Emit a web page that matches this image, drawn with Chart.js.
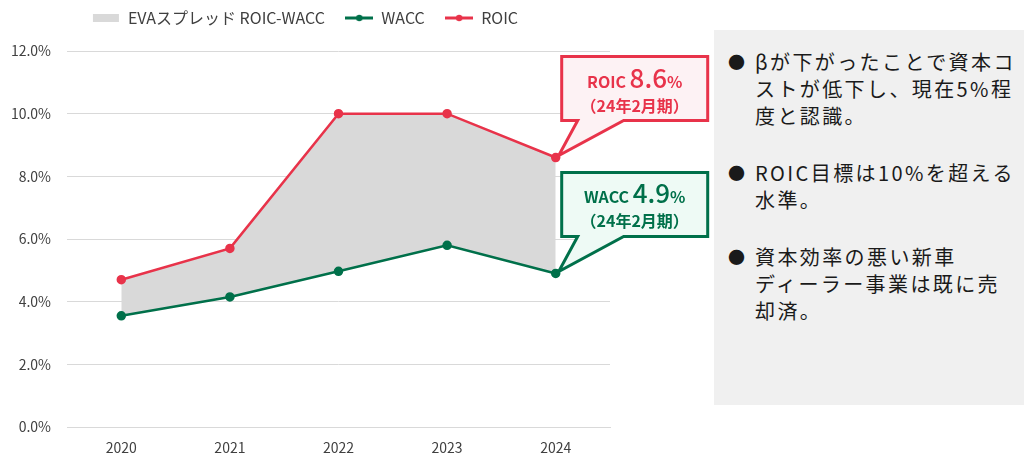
<!DOCTYPE html>
<html lang="ja">
<head>
<meta charset="utf-8">
<script src="https://cdn.jsdelivr.net/npm/chart.js@4.4.1/dist/chart.umd.min.js"></script>
<style>
  html, body { margin: 0; padding: 0; background: #fff; }
  body { width: 1024px; height: 453px; position: relative; overflow: hidden;
         font-family: "Noto Sans CJK JP", "Noto Sans", sans-serif; }
  #chartBox { position: absolute; left: 0; top: 0; width: 714px; height: 453px; }
  #notes { position: absolute; left: 714px; top: 30px; width: 310px; height: 375px;
           background: #f0f0f0; box-sizing: border-box; padding: 18px 0 0 14px; }
  #notes p { margin: 0 0 30px 0; position: relative; padding-left: 27px;
             font-size: 20px; line-height: 27px; letter-spacing: 2.4px; color: #1a1a1a; }
  #notes p.last { margin-top: 9px; }
  #notes p::before { content: "●"; position: absolute; left: 0; top: 0; font-size: 17px; letter-spacing: 0; }
</style>
</head>
<body>
<div id="chartBox"><canvas id="evaChart"></canvas></div>
<div id="notes">
  <p>βが下がったことで資本コ<br>ストが低下し、現在5%程<br>度と認識。</p>
  <p>ROIC目標は10%を超える<br>水準。</p>
  <p class="last">資本効率の悪い新車<br>ディーラー事業は既に売<br>却済。</p>
</div>
<script>
// data
const years = ["2020", "2021", "2022", "2023", "2024"];
const roic = [4.7, 5.7, 10.0, 10.0, 8.6];
const wacc = [3.55, 4.15, 4.97, 5.8, 4.9];
const seriesNames = ["EVAスプレッド ROIC-WACC", "WACC", "ROIC"];
const periodLabel = "（24年2月期）";

const RED = "#e8334a";
const GREEN = "#00704a";
const GRAY = "#d9d9d9";
const FONT = "'Noto Sans CJK JP', sans-serif";

// little legend markers
function marker(kind, color) {
  const c = document.createElement("canvas");
  c.width = 28; c.height = 10;
  const g = c.getContext("2d");
  if (kind === "box") {
    g.fillStyle = color;
    g.fillRect(1, 1, 26, 8);
  } else {
    g.strokeStyle = color; g.lineWidth = 3;
    g.beginPath(); g.moveTo(0, 5); g.lineTo(28, 5); g.stroke();
    g.fillStyle = color;
    g.beginPath(); g.arc(14, 5, 3.2, 0, Math.PI * 2); g.fill();
  }
  return c;
}
const legendIcons = [marker("box", GRAY), marker("line", GREEN), marker("line", RED)];

// keep the legend near the top but leave a gap below it
const legendGap = {
  id: "legendGap",
  beforeLayout(chart) {
    const lg = chart.legend;
    if (!lg || lg._gapPatched) return;
    const fit = lg.fit;
    lg.fit = function () {
      fit.call(this);
      this.height += 15;
    };
    lg._gapPatched = true;
  }
};

// callouts for the last point
const calloutPlugin = {
  id: "callouts",
  afterDatasetsDraw(chart) {
    const ctx = chart.ctx;
    const last = years.length - 1;
    const items = [
      { ds: 2, name: "ROIC", value: roic[last], stroke: RED, fill: "#fdf2f4" },
      { ds: 1, name: "WACC", value: wacc[last], stroke: GREEN, fill: "#eefaf5" }
    ];
    items.forEach((it) => {
      const pt = chart.getDatasetMeta(it.ds).data[last];
      const px = pt.x, py = pt.y;
      const L = px + 6, R = px + 152, T = py - 101, B = py - 37;
      ctx.save();
      ctx.beginPath();
      ctx.moveTo(L, T);
      ctx.lineTo(R, T);
      ctx.lineTo(R, B);
      ctx.lineTo(px + 68, B);
      ctx.lineTo(px + 3, py - 2);
      ctx.lineTo(px + 22, B);
      ctx.lineTo(L, B);
      ctx.closePath();
      ctx.fillStyle = it.fill;
      ctx.fill();
      ctx.lineWidth = 3;
      ctx.lineJoin = "miter";
      ctx.strokeStyle = it.stroke;
      ctx.stroke();

      const cx = (L + R) / 2;
      const f1 = "bold 16px " + FONT;
      const f2 = "500 26px " + FONT;
      const a = it.name + " ", b = it.value.toFixed(1), c = "%";
      ctx.font = f1; const wa = ctx.measureText(a).width; const wc = ctx.measureText(c).width;
      ctx.font = f2; const wb = ctx.measureText(b).width;
      let x = cx - (wa + wb + wc) / 2;
      const base = T + 31;
      ctx.fillStyle = it.stroke;
      ctx.textBaseline = "alphabetic";
      ctx.textAlign = "left";
      ctx.font = f1; ctx.fillText(a, x, base); x += wa;
      ctx.font = f2; ctx.fillText(b, x, base); x += wb;
      ctx.font = f1; ctx.fillText(c, x, base);
      ctx.font = "bold 16px " + FONT;
      ctx.textAlign = "center";
      ctx.fillText(periodLabel, cx, T + 55);
      ctx.restore();
    });
  }
};

new Chart(document.getElementById("evaChart"), {
  type: "line",
  data: {
    labels: years,
    datasets: [
      {
        label: seriesNames[0],
        data: roic,
        borderWidth: 0,
        pointRadius: 0,
        pointHoverRadius: 0,
        backgroundColor: GRAY,
        fill: 1
      },
      {
        label: seriesNames[1],
        data: wacc,
        borderColor: GREEN,
        backgroundColor: GREEN,
        borderWidth: 2.5,
        pointRadius: 3.5,
        fill: false
      },
      {
        label: seriesNames[2],
        data: roic,
        borderColor: RED,
        backgroundColor: RED,
        borderWidth: 2.5,
        pointRadius: 3.5,
        fill: false
      }
    ]
  },
  options: {
    responsive: true,
    maintainAspectRatio: false,
    animation: false,
    layout: { padding: { top: 4, right: 104, left: 0, bottom: 0 } },
    plugins: {
      filler: { drawTime: "beforeDatasetsDraw" },
      tooltip: { enabled: false },
      legend: {
        position: "top",
        labels: {
          usePointStyle: true,
          pointStyleWidth: 28,
          padding: 6,
          color: "#404040",
          font: { family: FONT, size: 16 },
          generateLabels: (chart) =>
            chart.data.datasets.map((d, i, all) => ({
              text: i < all.length - 1 ? d.label + "    " : d.label,
              pointStyle: legendIcons[i],
              fillStyle: "transparent",
              strokeStyle: "transparent",
              lineWidth: 0,
              fontColor: "#404040",
              datasetIndex: i
            }))
        }
      }
    },
    scales: {
      x: {
        offset: true,
        grid: { display: false, drawTicks: false },
        border: { display: true, color: GRAY, width: 1 },
        ticks: {
          padding: 12,
          color: "#404040",
          font: { family: FONT, size: 14 }
        },
        afterFit: (s) => { s.height = 26; }
      },
      y: {
        min: 0,
        max: 12,
        ticks: {
          stepSize: 2,
          padding: 16,
          color: "#404040",
          font: { family: FONT, size: 14 },
          callback: (v) => v.toFixed(1) + "%"
        },
        grid: { color: GRAY, drawTicks: false },
        border: { display: false },
        afterFit: (s) => { s.width = 67; }
      }
    }
  },
  plugins: [legendGap, calloutPlugin]
});
</script>
</body>
</html>
